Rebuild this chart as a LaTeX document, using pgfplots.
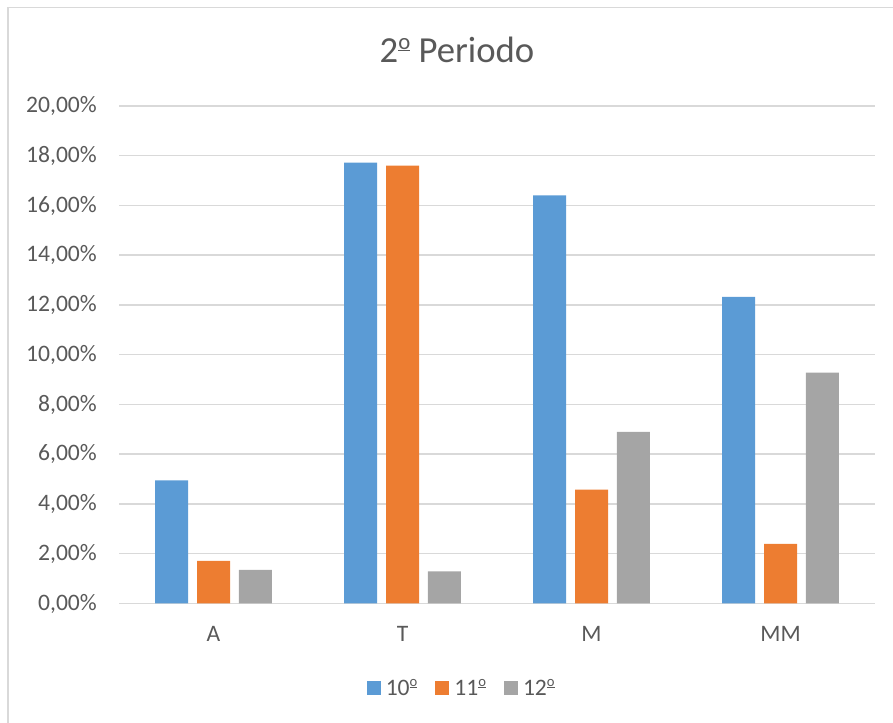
\documentclass[border=0pt]{standalone}
\usepackage{pgfplots}
\pgfplotsset{compat=1.18}
\usepackage{fontspec}
\setmainfont{Carlito}

\definecolor{c10}{HTML}{5B9BD5}
\definecolor{c11}{HTML}{ED7D31}
\definecolor{c12}{HTML}{A5A5A5}
\definecolor{gridgray}{HTML}{D9D9D9}
\definecolor{txt}{HTML}{595959}

% ordinal sign drawn with its bar, as in Calibri
\newcommand{\ord}{\raisebox{0.36em}{\scalebox{0.62}{\underline{o}}}}

\begin{document}
\begin{tikzpicture}
% 1 px of the reference = 1 pt here
\useasboundingbox (0pt,0pt) rectangle (893pt,722pt);
\draw[gridgray, line width=1.5pt] (8pt,-2pt) -- (8pt,714.5pt) -- (900pt,714.5pt);

\node[txt, font=\fontsize{36.7}{44}\selectfont] at (457pt,672pt) {2\ord{} Periodo};

\begin{axis}[
    at={(119pt,118.5pt)}, anchor=south west,
    scale only axis,
    width=756pt, height=497.5pt,
    ybar=8.9pt, bar width=33pt,
    xmin=-0.5, xmax=3.5,
    ymin=0, ymax=20,
    xtick={0,1,2,3},
    xticklabels={A,T,M,MM},
    ytick={0,2,4,6,8,10,12,14,16,18,20},
    yticklabels={0{,}00\%,2{,}00\%,4{,}00\%,6{,}00\%,8{,}00\%,10{,}00\%,12{,}00\%,14{,}00\%,16{,}00\%,18{,}00\%,20{,}00\%},
    major tick length=0pt,
    axis line style={draw=none},
    ymajorgrids,
    grid style={gridgray, line width=1.5pt},
    tick label style={txt, font=\fontsize{23.6}{28}\selectfont, inner sep=0pt},
    yticklabel style={anchor=east, xshift=-22pt},
    xticklabel style={anchor=base, yshift=-38pt},
    legend columns=3,
    legend style={
        at={(0.452,-0.170)}, anchor=center,
        draw=none, fill=none,
        font=\fontsize{23.6}{28}\selectfont, text=txt,
        nodes={inner sep=0pt},
        /tikz/every odd column/.append style={column sep=5pt},
        /tikz/every even column/.append style={column sep=18pt},
    },
    legend image code/.code={\fill[#1] (0pt,-7pt) rectangle (14pt,7pt);},
]
\addplot[fill=c10, draw=none] coordinates {(0,4.95) (1,17.72) (2,16.41) (3,12.33)};
\addlegendentry{10\ord}
\addplot[fill=c11, draw=none] coordinates {(0,1.71) (1,17.60) (2,4.58) (3,2.40)};
\addlegendentry{11\ord}
\addplot[fill=c12, draw=none] coordinates {(0,1.35) (1,1.29) (2,6.90) (3,9.28)};
\addlegendentry{12\ord}
\end{axis}
\end{tikzpicture}
\end{document}
